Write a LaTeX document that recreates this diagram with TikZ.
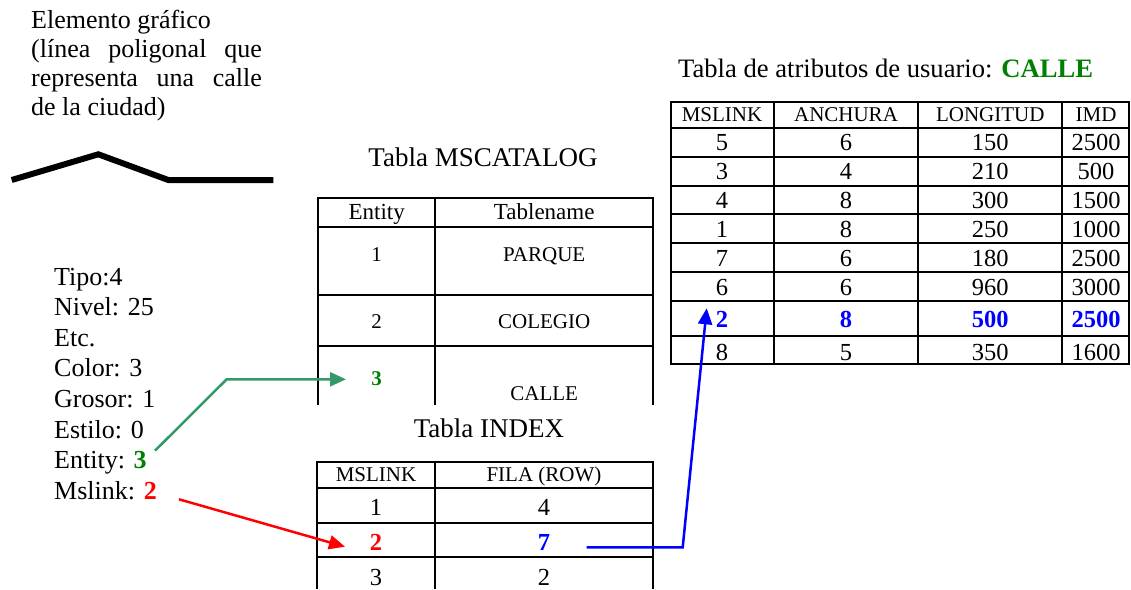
\documentclass[tikz,border=0pt]{standalone}
\usepackage{fontspec}
\setmainfont{Liberation Serif}
\usetikzlibrary{arrows.meta}

\definecolor{txtgreen}{RGB}{0,128,0}
\definecolor{linkgreen}{RGB}{51,153,102}
\definecolor{linkred}{RGB}{255,0,0}
\definecolor{linkblue}{RGB}{0,0,255}

\newcommand\fsz[1]{\fontsize{#1}{#1}\selectfont}

\tikzset{
  txt/.style={inner sep=0pt, anchor=base west, font=\fsz{26}},
  ttl/.style={inner sep=0pt, anchor=base, font=\fsz{27}},
  cell/.style={inner sep=0pt, anchor=base, font=\fsz{24.5}},
  smallcell/.style={inner sep=0pt, anchor=base, font=\fsz{21}},
  head/.style={inner sep=0pt, anchor=base, font=\fsz{21}},
  bighead/.style={inner sep=0pt, anchor=base, font=\fsz{23}},
  grid/.style={line width=2pt},
  link/.style={line width=2.5pt, -{Triangle[length=16pt,width=14pt]}},
}

\begin{document}
\begin{tikzpicture}[x=1pt,y=-1pt]
\useasboundingbox (0,0) rectangle (1131,589);

% --- graphic element: description and street polyline
\node[txt] (d1) at (31,28.5) {Elemento gráfico};
\node[txt] (d2) at (31,57.5) {\makebox[230.7pt][s]{(línea poligonal que}};
\node[txt] (d3) at (31,86.5) {\makebox[230.7pt][s]{representa una calle}};
\node[txt] (d4) at (31,115.5) {de la ciudad)};
\draw[line width=6pt] (11.7,180) -- (98.3,154.3) -- (168.3,180) -- (273.3,180);

% --- element attributes
\node[txt] (p1) at (54,285.0) {Tipo:4};
\node[txt] (p2) at (54,315.6) {Nivel: 25};
\node[txt] (p3) at (54,346.2) {Etc.};
\node[txt] (p4) at (54,376.8) {Color: 3};
\node[txt] (p5) at (54,407.4) {Grosor: 1};
\node[txt] (p6) at (54,438.0) {Estilo: 0};
\node[txt] (p7) at (54,468.8) {Entity: \textcolor{txtgreen}{\textbf{3}}};
\node[txt] (p8) at (54,499.4) {Mslink: \textcolor{linkred}{\textbf{2}}};

% --- MSCATALOG table
\node[ttl] (catttl) at (483,166) {Tabla MSCATALOG};
\draw[grid] (318.3,198.3) -- (653.3,198.3);
\foreach \y in {227.3,295,346} \draw[grid] (318.3,\y) -- (653.3,\y);
\foreach \x in {318.3,435,653.3} \draw[grid] (\x,197.3) -- (\x,405);
\node[bighead] (cath1) at (376.7,219.3) {Entity};
\node[bighead] (cath2) at (544.2,219.3) {Tablename};
\node[smallcell] (cat11) at (376.7,261.3) {1};
\node[smallcell] (cat12) at (544.2,261.3) {PARQUE};
\node[smallcell] (cat21) at (376.7,328.3) {2};
\node[smallcell] (cat22) at (544.2,328.3) {COLEGIO};
\node[smallcell,text=txtgreen,font=\fsz{21}\bfseries] (cat31) at (376.7,385) {3};
\node[smallcell] (cat32) at (544.2,400) {CALLE};

% --- INDEX table
\node[ttl] (idxttl) at (489,437.7) {Tabla INDEX};
\foreach \y in {461.7,488.3,523.3,557.3} \draw[grid] (317.3,\y) -- (653.3,\y);
\foreach \x in {317.3,435,653.3} \draw[grid] (\x,460.7) -- (\x,589);
\node[head] (idxh1) at (376,481.7) {MSLINK};
\node[head] (idxh2) at (544,481.7) {FILA (ROW)};
\node[cell] (idx11) at (376,515) {1};
\node[cell] (idx12) at (544,515) {4};
\node[cell,text=linkred,font=\fsz{24.5}\bfseries] (idx21) at (376,550) {2};
\node[cell,text=linkblue,font=\fsz{24.5}\bfseries] (idx22) at (544,550) {7};
\node[cell] (idx31) at (376,585) {3};
\node[cell] (idx32) at (544,585) {2};

% --- user attribute table CALLE
\node[txt,font=\fsz{26.6}] (attttl) at (678,77.3) {Tabla de atributos de usuario: \textcolor{txtgreen}{\textbf{CALLE}}};
\foreach \y in {102.3,127.7,156.7,185.7,214.3,243.3,272.3,300.7,335.7,364.3}
  \draw[grid] (671,\y) -- (1129,\y);
\foreach \x in {671,774,918.3,1062.3,1129} \draw[grid] (\x,101.3) -- (\x,365.3);
\node[head] (atth1) at (722,121.7) {MSLINK};
\node[head] (atth2) at (846,121.7) {ANCHURA};
\node[head] (atth3) at (990.3,121.7) {LONGITUD};
\node[head] (atth4) at (1096,121.7) {IMD};
\foreach \a/\b/\c/\d/\y [count=\r] in
  {5/6/150/2500/150, 3/4/210/500/179.3, 4/8/300/1500/208.3, 1/8/250/1000/237.3,
   7/6/180/2500/266.3, 6/6/960/3000/295.7, 8/5/350/1600/360}{
  \node[cell] (att\r a) at (722,\y) {\a};
  \node[cell] (att\r b) at (846,\y) {\b};
  \node[cell] (att\r c) at (990.3,\y) {\c};
  \node[cell] (att\r d) at (1096,\y) {\d};
}
\tikzset{hit/.style={cell,text=linkblue,font=\fsz{24.5}\bfseries}}
\node[hit] (hit1) at (722,327.3) {2};
\node[hit] (hit2) at (846,327.3) {8};
\node[hit] (hit3) at (990.3,327.3) {500};
\node[hit] (hit4) at (1096,327.3) {2500};

% --- links
\coordinate (gstart) at (155,450.7);
\coordinate (gbend) at (226.7,379.3);
\coordinate (gend) at (346,379.3);
\draw[link,linkgreen] (gstart) -- (gbend) -- (gend);

\coordinate (rstart) at (179,499.3);
\coordinate (rend) at (345,546.7);
\draw[link,linkred] (rstart) -- (rend);

\coordinate (bstart) at (586.7,547.3);
\coordinate (bbend) at (682.7,547.3);
\coordinate (bend) at (706.7,308.3);
\draw[link,linkblue] (bstart) -- (bbend) -- (bend);
\end{tikzpicture}
\end{document}
